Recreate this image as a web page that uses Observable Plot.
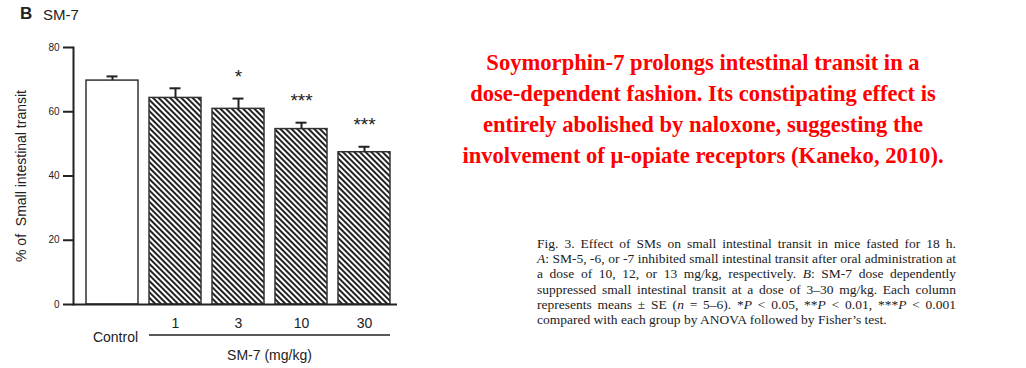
<!DOCTYPE html>
<html>
<head>
<meta charset="utf-8">
<script src="https://cdn.jsdelivr.net/npm/d3@7"></script>
<script src="https://cdn.jsdelivr.net/npm/@observablehq/plot@0.6"></script>
<style>
  html, body { margin: 0; padding: 0; background: #fff; }
  #page { position: relative; width: 1026px; height: 368px; overflow: hidden; font-family: "Liberation Sans", Arial, sans-serif; }
  #chart { position: absolute; left: 0; top: 0; }
  #panel { position: absolute; left: 20px; top: 4px; font-size: 17px; font-weight: bold; color: #222; }
  #panelTitle { position: absolute; left: 43px; top: 6px; font-size: 15px; color: #222; }
  #headline { position: absolute; left: 402px; top: 46.5px; width: 602px; text-align: center;
    font-family: "Liberation Serif", serif; font-weight: bold; font-size: 22.6px; line-height: 31px; color: #ff0000; white-space: nowrap; }
  #caption { position: absolute; left: 537px; top: 236px; width: 419px;
    font-family: "Liberation Serif", serif; font-size: 13.5px; line-height: 15.2px; color: #222; }
  #caption .l { white-space: nowrap; text-align: justify; text-align-last: justify; }
  #caption .l.last { text-align-last: left; }
</style>
</head>
<body>
<svg width="0" height="0" style="position:absolute">
  <defs>
    <pattern id="hatch" patternUnits="userSpaceOnUse" width="4" height="4" patternTransform="rotate(45)">
      <rect x="0" y="0" width="4" height="4" fill="#fff"></rect>
      <rect x="0" y="0" width="4" height="2" fill="#222"></rect>
    </pattern>
  </defs>
</svg>
<div id="page">
  <div id="chart"></div>
  <div id="panel">B</div>
  <div id="panelTitle">SM-7</div>
  <div id="headline">Soymorphin-7 prolongs intestinal transit in a<br>dose-dependent fashion. Its constipating effect is<br>entirely abolished by naloxone, suggesting the<br>involvement of μ-opiate receptors (Kaneko, 2010).</div>
  <div id="caption">
    <div class="l">Fig. 3. Effect of SMs on small intestinal transit in mice fasted for 18 h.</div>
    <div class="l"><i>A</i>: SM-5, -6, or -7 inhibited small intestinal transit after oral administration at</div>
    <div class="l">a dose of 10, 12, or 13 mg/kg, respectively. <i>B</i>: SM-7 dose dependently</div>
    <div class="l">suppressed small intestinal transit at a dose of 3–30 mg/kg. Each column</div>
    <div class="l">represents means ± SE (<i>n</i> = 5–6). *<i>P</i> &lt; 0.05, **<i>P</i> &lt; 0.01, ***<i>P</i> &lt; 0.001</div>
    <div class="l last">compared with each group by ANOVA followed by Fisher’s test.</div>
  </div>
</div>
<script>
// ---- data ----
const categories = ["Control", "1", "3", "10", "30"];
const means = [69.7, 64.3, 60.9, 54.6, 47.4];
const errors = [1.3, 3.0, 3.2, 2.0, 1.7];
const stars = ["", "", "*", "***", "***"];
const yTicks = [0, 20, 40, 60, 80];
const yLabel = "% of  Small intestinal transit";
const xGroupLabel = "SM-7 (mg/kg)";

const data = categories.map((c, i) => ({cat: c, mean: means[i], err: errors[i], top: means[i] + errors[i], star: stars[i]}));
const control = data.filter(d => d.cat === "Control");
const treated = data.filter(d => d.cat !== "Control");

const ink = "#222";

const plot = Plot.plot({
  width: 430,
  height: 368,
  marginLeft: 73,
  marginRight: 33,
  marginTop: 47,
  marginBottom: 64,
  style: {fontFamily: "'Liberation Sans', Arial, sans-serif", color: ink, background: "transparent"},
  x: {domain: categories, range: [73.6, 402.6], paddingInner: 0.18, paddingOuter: 0.18, axis: null},
  y: {domain: [0, 80], axis: null},
  marks: [
    Plot.barY(control, {x: "cat", y: "mean", fill: "white", stroke: "#333", strokeWidth: 1.5}),
    Plot.barY(treated, {x: "cat", y: "mean", fill: "url(#hatch)", stroke: "#333", strokeWidth: 1.5}),
    Plot.ruleX(data, {x: "cat", y1: "mean", y2: "top", stroke: ink, strokeWidth: 2}),
    Plot.tickY(data, {x: "cat", y: "top", stroke: ink, strokeWidth: 2, insetLeft: 20.5, insetRight: 20.5}),
    Plot.text(data, {x: "cat", y: "top", text: "star", dy: -22, fontSize: 19, fill: ink}),
    Plot.axisY({ticks: yTicks, tickSize: 10, tickPadding: 4, fontSize: 10, strokeWidth: 2,
      label: yLabel, labelAnchor: "center", labelOffset: 57, labelArrow: "none"}),
    Plot.ruleY([0], {stroke: ink, strokeWidth: 2}),
    Plot.frame({anchor: "left", stroke: ink, strokeWidth: 2}),
    Plot.text(treated, {x: "cat", text: "cat", frameAnchor: "bottom", dy: 23, fontSize: 14, fill: ink}),
    Plot.text(control, {x: "cat", text: "cat", frameAnchor: "bottom", dy: 37, dx: 3, fontSize: 14, fill: ink}),
    Plot.text([xGroupLabel], {frameAnchor: "bottom", dy: 55, dx: 34, fontSize: 14, fill: ink}),
    (index, {x}, values, dims) => {
      const x1 = x(categories[1]);
      const x2 = x(categories[categories.length - 1]) + x.bandwidth();
      const yb = dims.height - dims.marginBottom + 31;
      const g = d3.create("svg:line")
        .attr("x1", x1).attr("x2", x2).attr("y1", yb).attr("y2", yb)
        .attr("stroke", ink).attr("stroke-width", 1.5);
      return g.node();
    }
  ]
});
document.getElementById("chart").appendChild(plot);
plot.querySelectorAll("g[aria-label='y-axis label'] text").forEach(t => t.setAttribute("font-size", 14));
</script>
</body>
</html>
